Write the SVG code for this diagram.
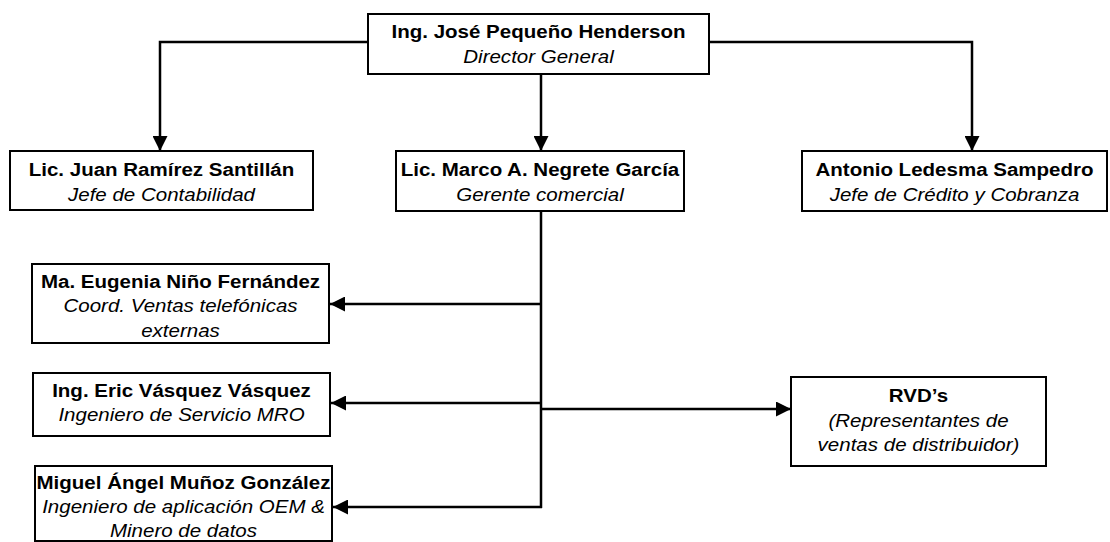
<svg xmlns="http://www.w3.org/2000/svg" width="1110" height="542" viewBox="0 0 1110 542">
  <style>
    .box { fill: #ffffff; stroke: #000000; stroke-width: 2; }
    .wire { fill: none; stroke: #000000; stroke-width: 2.5; }
    .name { font-family: "Liberation Sans", Arial, sans-serif; font-size: 19px; font-weight: bold; text-anchor: middle; fill: #000000; }
    .role { font-family: "Liberation Sans", Arial, sans-serif; font-size: 19px; font-style: italic; text-anchor: middle; fill: #000000; }
  </style>
  <defs>
    <marker id="arrow" viewBox="0 0 10 10" refX="10" refY="5" markerWidth="15" markerHeight="15" markerUnits="userSpaceOnUse" orient="auto">
      <path d="M0,0 L10,5 L0,10 z" fill="#000000"/>
    </marker>
  </defs>
  <rect width="1110" height="542" fill="#ffffff"/>

  <!-- connectors -->
  <g id="connectors">
    <polyline class="wire" points="368,42 160,42 160,151" marker-end="url(#arrow)"/>
    <polyline class="wire" points="709,42 972,42 972,151" marker-end="url(#arrow)"/>
    <line class="wire" x1="541" y1="74" x2="541" y2="151" marker-end="url(#arrow)"/>
    <line class="wire" x1="541" y1="211" x2="541" y2="508"/>
    <line class="wire" x1="541" y1="304" x2="330" y2="304" marker-end="url(#arrow)"/>
    <line class="wire" x1="541" y1="403" x2="331" y2="403" marker-end="url(#arrow)"/>
    <line class="wire" x1="542" y1="507" x2="333" y2="507" marker-end="url(#arrow)"/>
    <line class="wire" x1="541" y1="409" x2="791" y2="409" marker-end="url(#arrow)"/>
  </g>

  <!-- nodes -->
  <g id="director">
    <rect class="box" x="368" y="14" width="341" height="60"/>
    <g transform="translate(538.5 0) scale(1.08 1)">
      <text class="name" x="0" y="38">Ing. José Pequeño Henderson</text>
      <text class="role" x="0" y="63">Director General</text>
    </g>
  </g>

  <g id="contabilidad">
    <rect class="box" x="10" y="151" width="303" height="59"/>
    <g transform="translate(161.5 0) scale(1.08 1)">
      <text class="name" x="0" y="176">Lic. Juan Ramírez Santillán</text>
      <text class="role" x="0" y="201">Jefe de Contabilidad</text>
    </g>
  </g>

  <g id="comercial">
    <rect class="box" x="396" y="151" width="288" height="60"/>
    <g transform="translate(540 0) scale(1.08 1)">
      <text class="name" x="0" y="176">Lic. Marco A. Negrete García</text>
      <text class="role" x="0" y="201">Gerente comercial</text>
    </g>
  </g>

  <g id="credito">
    <rect class="box" x="802" y="151" width="305" height="60"/>
    <g transform="translate(954.5 0) scale(1.08 1)">
      <text class="name" x="0" y="176">Antonio Ledesma Sampedro</text>
      <text class="role" x="0" y="201">Jefe de Crédito y Cobranza</text>
    </g>
  </g>

  <g id="ventas-telefonicas">
    <rect class="box" x="32" y="264" width="297" height="79"/>
    <g transform="translate(180.5 0) scale(1.08 1)">
      <text class="name" x="0" y="288">Ma. Eugenia Niño Fernández</text>
      <text class="role" x="0" y="312">Coord. Ventas telefónicas</text>
      <text class="role" x="0" y="337">externas</text>
    </g>
  </g>

  <g id="servicio-mro">
    <rect class="box" x="33" y="373" width="297" height="63"/>
    <g transform="translate(181.5 0) scale(1.08 1)">
      <text class="name" x="0" y="397">Ing. Eric Vásquez Vásquez</text>
      <text class="role" x="0" y="421">Ingeniero de Servicio MRO</text>
    </g>
  </g>

  <g id="aplicacion-oem">
    <rect class="box" x="35" y="466" width="297" height="75"/>
    <g transform="translate(183.5 0) scale(1.08 1)">
      <text class="name" x="0" y="489">Miguel Ángel Muñoz González</text>
      <text class="role" x="0" y="513">Ingeniero de aplicación OEM &amp;</text>
      <text class="role" x="0" y="537">Minero de datos</text>
    </g>
  </g>

  <g id="rvd">
    <rect class="box" x="791" y="377" width="255" height="89"/>
    <g transform="translate(918.5 0) scale(1.08 1)">
      <text class="name" x="0" y="402">RVD’s</text>
      <text class="role" x="0" y="427">(Representantes de</text>
      <text class="role" x="0" y="451">ventas de distribuidor)</text>
    </g>
  </g>
</svg>
